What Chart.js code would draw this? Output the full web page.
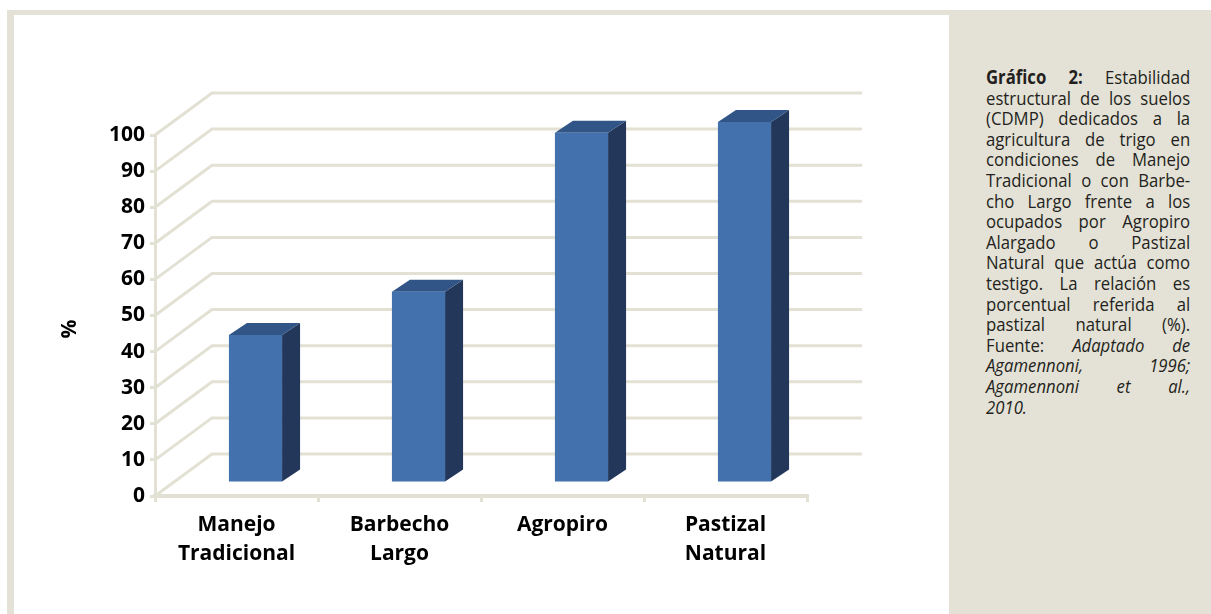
<!DOCTYPE html>
<html lang="es">
<head>
<meta charset="utf-8">
<title>Estabilidad estructural de los suelos</title>
<script src="https://cdn.jsdelivr.net/npm/chart.js@4.4.1/dist/chart.umd.min.js"></script>
<style>
    html, body { margin: 0; padding: 0; background: #fff; }
    body { width: 1211px; height: 614px; position: relative; overflow: hidden; font-family: "Open Sans", sans-serif; }
    .frame { position: absolute; left: 7px; top: 10px; width: 1204px; height: 604px; background: #e4e2d6; }
    .plot { position: absolute; left: 14px; top: 15px; width: 935px; height: 599px; background: #fff; }
    /* condensed caption: wider box squeezed horizontally */
    .caption { position: absolute; left: 986px; top: 67px; width: 232px; font-size: 19px; line-height: 20.6px; color: #231f20; transform: scaleX(0.88); transform-origin: 0 0; }
    .caption div { text-align: justify; text-align-last: justify; }
    .caption div.last { text-align-last: left; }
</style>
</head>
<body>
<div class="frame"></div>
<div class="plot"><canvas id="soilChart" width="935" height="599"></canvas></div>
<div class="caption">
    <div><b>Gráfico 2:</b> Estabilidad</div>
    <div>estructural de los suelos</div>
    <div>(CDMP) dedicados a la</div>
    <div>agricultura de trigo en</div>
    <div>condiciones de Manejo</div>
    <div>Tradicional o con Barbe-</div>
    <div>cho Largo frente a los</div>
    <div>ocupados por Agropiro</div>
    <div>Alargado o Pastizal</div>
    <div>Natural que actúa como</div>
    <div>testigo. La relación es</div>
    <div>porcentual referida al</div>
    <div>pastizal natural (%).</div>
    <div>Fuente: <i>Adaptado de</i></div>
    <div><i>Agamennoni, 1996;</i></div>
    <div><i>Agamennoni et al.,</i></div>
    <div class="last"><i>2010.</i></div>
</div>
<script>
// Data
const categories = [["Manejo", "Tradicional"], ["Barbecho", "Largo"], "Agropiro", ["Pastizal", "Natural"]];
const values = [41, 53, 97, 100];
const yMin = 0;
const yMax = 100;
const yStep = 10;

// 3D look
const WALL_DX = 57, WALL_DY = -42;   // front axis -> back wall
const BAR_DX = 19, BAR_DY = -13;     // front axis -> bar front face
const SIDE_DX = 18, SIDE_DY = -12;   // bar depth
const gridColor = "#e3e1d3";

const box3d = {
    id: "box3d",
    beforeDatasetsDraw(chart) {
        const { ctx, chartArea, scales } = chart;
        const y = scales.y;
        ctx.save();
        ctx.strokeStyle = gridColor;
        ctx.lineWidth = 3;
        ctx.lineJoin = "miter";
        y.ticks.forEach(t => {
            const py = y.getPixelForValue(t.value);
            ctx.beginPath();
            ctx.moveTo(chartArea.left, py);
            ctx.lineTo(chartArea.left + WALL_DX, py + WALL_DY);
            ctx.lineTo(chartArea.right + WALL_DX - 2, py + WALL_DY);
            ctx.stroke();
        });
        ctx.restore();
    },
    afterDatasetsDraw(chart) {
        const { ctx } = chart;
        const meta = chart.getDatasetMeta(0);
        ctx.save();
        meta.data.forEach(bar => {
            const l = bar.x - bar.width / 2 + BAR_DX;
            const r = bar.x + bar.width / 2 + BAR_DX;
            const t = bar.y + BAR_DY;
            const b = bar.base + BAR_DY;

            // side
            ctx.fillStyle = "#23375a";
            ctx.beginPath();
            ctx.moveTo(r, t);
            ctx.lineTo(r + SIDE_DX, t + SIDE_DY);
            ctx.lineTo(r + SIDE_DX, b + SIDE_DY);
            ctx.lineTo(r, b);
            ctx.closePath();
            ctx.fill();

            // top
            ctx.fillStyle = "#325587";
            ctx.beginPath();
            ctx.moveTo(l, t);
            ctx.lineTo(l + SIDE_DX, t + SIDE_DY);
            ctx.lineTo(r + SIDE_DX, t + SIDE_DY);
            ctx.lineTo(r, t);
            ctx.closePath();
            ctx.fill();

            // front
            ctx.fillStyle = "#4271ae";
            ctx.fillRect(l, t, r - l, b - t);
        });
        ctx.restore();
    },
    afterDraw(chart) {
        const { ctx } = chart;
        ctx.save();
        ctx.translate(56, 314);
        ctx.rotate(-Math.PI / 2);
        ctx.font = "bold 21px 'Open Sans'";
        ctx.fillStyle = "#000";
        ctx.textAlign = "center";
        ctx.textBaseline = "middle";
        ctx.fillText("%", 0, 0);
        ctx.restore();
    }
};

new Chart(document.getElementById("soilChart"), {
    type: "bar",
    data: {
        labels: categories,
        datasets: [{
            data: values,
            backgroundColor: "rgba(0,0,0,0)",
            borderWidth: 0,
            barPercentage: 0.326,
            categoryPercentage: 1
        }]
    },
    options: {
        responsive: false,
        animation: false,
        layout: { padding: { top: 120, right: 142, left: 0, bottom: 0 } },
        plugins: {
            legend: { display: false },
            tooltip: { enabled: false }
        },
        scales: {
            x: {
                afterFit(scale) { scale.height = 118; },
                grid: { drawOnChartArea: false, drawTicks: true, tickLength: 6, color: gridColor, lineWidth: 3 },
                border: { display: true, color: gridColor, width: 4 },
                ticks: {
                    color: "#000",
                    padding: 8,
                    maxRotation: 0,
                    autoSkip: false,
                    font: { family: "'Open Sans'", size: 21, weight: "bold", lineHeight: 1.4 }
                }
            },
            y: {
                min: yMin,
                max: yMax,
                afterFit(scale) { scale.width = 141; },
                grid: { drawOnChartArea: false, drawTicks: true, tickLength: 5, color: gridColor, lineWidth: 3 },
                border: { display: true, color: gridColor, width: 3 },
                ticks: {
                    stepSize: yStep,
                    color: "#000",
                    padding: 5,
                    font: { family: "'Open Sans'", size: 21, weight: "bold" }
                }
            }
        }
    },
    plugins: [box3d]
});
</script>
</body>
</html>
